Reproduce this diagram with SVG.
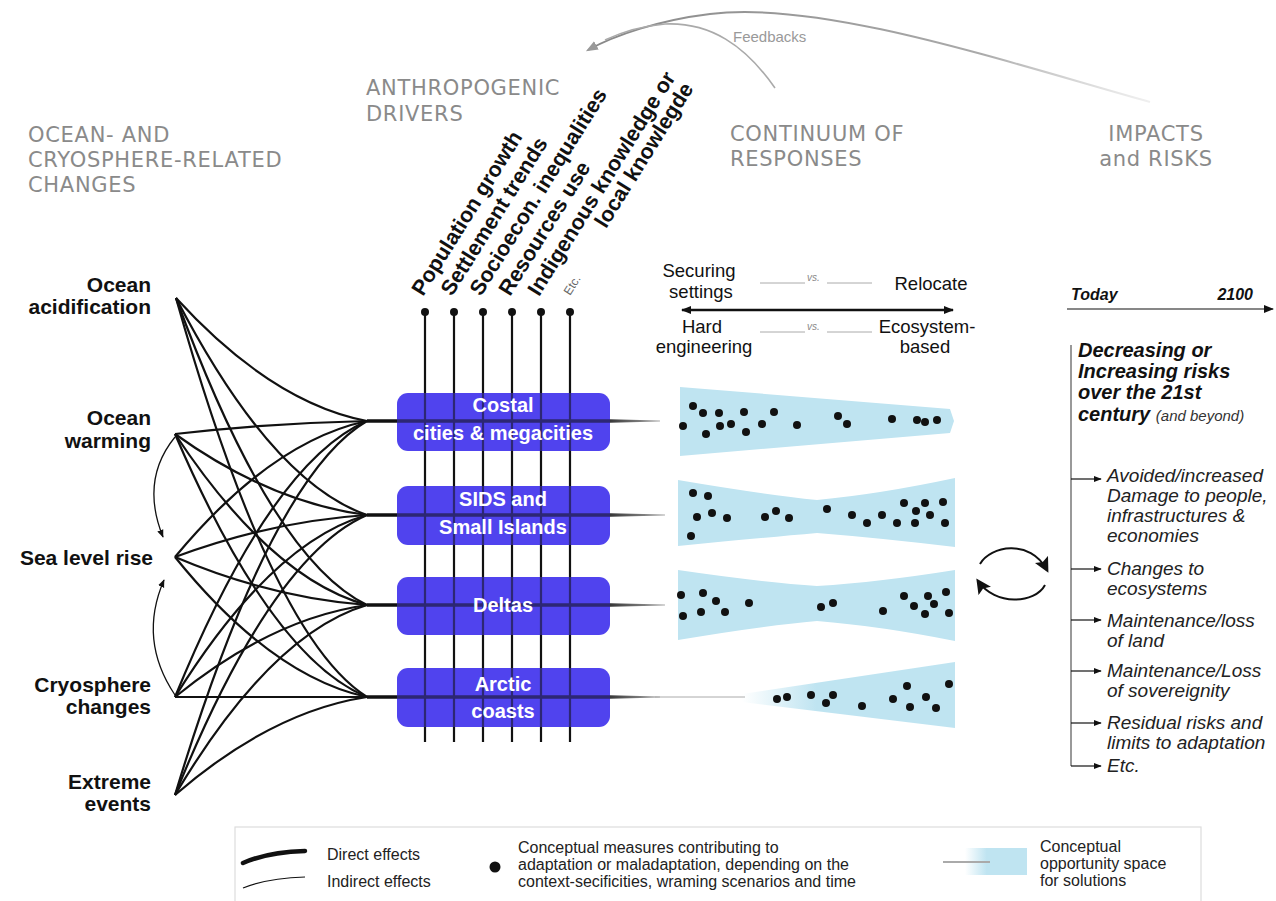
<svg xmlns="http://www.w3.org/2000/svg" width="1276" height="901" viewBox="0 0 1276 901">
<style>
.hdr{font-family:"DejaVu Sans","Liberation Sans",sans-serif;font-size:21px;letter-spacing:0.7px;fill:#8a8a8a}
.src{font-family:"Liberation Sans",Arial,sans-serif;font-size:21px;font-weight:bold;fill:#111;text-anchor:end}
.drv{font-family:"Liberation Sans",Arial,sans-serif;font-size:21.5px;font-weight:bold;fill:#111}
.box{fill:#5044ee}
.btx{font-family:"Liberation Sans",Arial,sans-serif;font-size:20px;font-weight:bold;fill:#fff;text-anchor:middle}
.fan{fill:none;stroke:#111;stroke-width:2.2}
.vl{stroke:#111;stroke-width:2.2}
.resp{font-family:"Liberation Sans",Arial,sans-serif;font-size:18.5px;fill:#111;text-anchor:middle}
.vs{font-family:"Liberation Sans",Arial,sans-serif;font-size:10px;font-style:italic;fill:#888}
.opp{fill:#bfe4f1}
.dot{fill:#111}
.imp{font-family:"Liberation Sans",Arial,sans-serif;font-size:19px;font-style:italic;fill:#222}
.big{font-family:"Liberation Sans",Arial,sans-serif;font-size:20px;font-style:italic;font-weight:bold;fill:#111}
.leg{font-family:"Liberation Sans",Arial,sans-serif;font-size:16px;fill:#222}
</style>
<defs>
<marker id="ah" viewBox="0 0 10 10" refX="9" refY="5" markerWidth="10" markerHeight="10" markerUnits="userSpaceOnUse" orient="auto-start-reverse"><path d="M0,1 L10,5 L0,9 z" fill="#111"/></marker>
<marker id="ahs" viewBox="0 0 10 10" refX="9" refY="5" markerWidth="8" markerHeight="8" markerUnits="userSpaceOnUse" orient="auto-start-reverse"><path d="M0,1 L10,5 L0,9 z" fill="#111"/></marker>
<marker id="ahb" viewBox="0 0 10 10" refX="8" refY="5" markerWidth="15" markerHeight="15" markerUnits="userSpaceOnUse" orient="auto"><path d="M0,0 L10,5 L0,10 L2,5 z" fill="#111"/></marker>
<marker id="ahg" viewBox="0 0 10 10" refX="8" refY="5" markerWidth="12" markerHeight="12" markerUnits="userSpaceOnUse" orient="auto"><path d="M0,1 L10,5 L0,9 z" fill="#999"/></marker>
<linearGradient id="arcg" x1="0" x2="1" y1="0" y2="0"><stop offset="0" stop-color="#bfe4f1" stop-opacity="0"/><stop offset="0.35" stop-color="#bfe4f1"/><stop offset="1" stop-color="#bfe4f1"/></linearGradient>
<linearGradient id="tap" x1="0" x2="1" y1="0" y2="0"><stop offset="0" stop-color="#222"/><stop offset="1" stop-color="#aaa"/></linearGradient>
<linearGradient id="fbg" x1="0" x2="1" y1="0" y2="0"><stop offset="0" stop-color="#888"/><stop offset="0.7" stop-color="#aaa"/><stop offset="1" stop-color="#ccc" stop-opacity="0.3"/></linearGradient>
<clipPath id="boxclip">
<rect x="397" y="393" width="213" height="58" rx="11"/>
<rect x="397" y="486" width="213" height="59" rx="11"/>
<rect x="397" y="577" width="213" height="58" rx="11"/>
<rect x="397" y="668" width="213" height="59" rx="11"/>
</clipPath>
</defs>
<rect width="1276" height="901" fill="#fff"/>

<!-- headers -->
<g id="headers">
<text class="hdr" x="28" y="142">OCEAN- AND</text>
<text class="hdr" x="28" y="167">CRYOSPHERE-RELATED</text>
<text class="hdr" x="28" y="192">CHANGES</text>
<text class="hdr" x="366" y="95">ANTHROPOGENIC</text>
<text class="hdr" x="366" y="121">DRIVERS</text>
<text class="hdr" x="730" y="141">CONTINUUM OF</text>
<text class="hdr" x="730" y="166">RESPONSES</text>
<text class="hdr" x="1156" y="141" text-anchor="middle">IMPACTS</text>
<text class="hdr" x="1156" y="166" text-anchor="middle">and RISKS</text>
</g>

<!-- feedbacks -->
<g id="feedbacks">
<path d="M1150,102 C1000,60 820,0 710,14 C660,20 615,35 588,50" fill="none" stroke="url(#fbg)" stroke-width="2" marker-end="url(#ahg)"/>
<path d="M775,88 C745,45 710,22 665,24 C640,26 620,33 605,40" fill="none" stroke="#aaa" stroke-width="1.6"/>
<text x="733" y="42" font-family="Liberation Sans, Arial, sans-serif" font-size="15" fill="#999">Feedbacks</text>
</g>

<!-- sources -->
<g id="src-acid"><text class="src" x="151" y="292">Ocean</text><text class="src" x="151" y="314">acidification</text></g>
<g id="src-warm"><text class="src" x="151" y="425">Ocean</text><text class="src" x="151" y="448">warming</text></g>
<g id="src-slr"><text class="src" x="153" y="565">Sea level rise</text></g>
<g id="src-cryo"><text class="src" x="151" y="692">Cryosphere</text><text class="src" x="151" y="714">changes</text></g>
<g id="src-ext"><text class="src" x="151" y="789">Extreme</text><text class="src" x="151" y="811">events</text></g>

<!-- connectors -->
<g id="connectors">
<path class="fan" d="M176,298 Q271.5,402.6 367,421"/>
<path class="fan" d="M176,298 Q271.5,482.5 367,515"/>
<path class="fan" d="M176,298 Q271.5,559 367,605"/>
<path class="fan" d="M176,298 Q271.5,637 367,697"/>
<path class="fan" d="M175,434 Q271,423 367,421"/>
<path class="fan" d="M175,434 Q271,502.9 367,515"/>
<path class="fan" d="M175,434 Q271,579 367,605"/>
<path class="fan" d="M175,434 Q271,657.6 367,697"/>
<path class="fan" d="M175,557 Q271,441.4 367,421"/>
<path class="fan" d="M175,557 Q271,521.3 367,515"/>
<path class="fan" d="M175,557 Q271,597.8 367,605"/>
<path class="fan" d="M175,557 Q271,676 367,697"/>
<path class="fan" d="M175,697 Q271,462.4 367,421"/>
<path class="fan" d="M175,697 Q271,542.3 367,515"/>
<path class="fan" d="M175,697 Q271,618.8 367,605"/>
<path class="fan" d="M175,697 L367,697"/>
<path class="fan" d="M175,795 Q271,477.1 367,421"/>
<path class="fan" d="M175,795 Q271,557 367,515"/>
<path class="fan" d="M175,795 Q271,633.5 367,605"/>
<path class="fan" d="M175,795 Q271,711.7 367,697"/>
<path d="M175,437 Q140,480 163,537" fill="none" stroke="#111" stroke-width="1.3" marker-end="url(#ahs)"/>
<path d="M175,695 Q138,640 164,580" fill="none" stroke="#111" stroke-width="1.3" marker-end="url(#ahs)"/>
<polygon points="600,419 600,423 660,421.4 660,420.6" fill="url(#tap)"/>
<polygon points="600,513 600,517 665,515.4 665,514.6" fill="url(#tap)"/>
<polygon points="600,603 600,607 665,605.4 665,604.6" fill="url(#tap)"/>
<polygon points="600,695 600,699 660,697.5 660,696.5" fill="url(#tap)"/>
<line x1="655" y1="697" x2="745" y2="697" stroke="#aaa" stroke-width="1"/>
<g id="drvlines">
<line class="vl" x1="425" y1="312" x2="425" y2="742"/>
<line class="vl" x1="454" y1="312" x2="454" y2="742"/>
<line class="vl" x1="483" y1="312" x2="483" y2="742"/>
<line class="vl" x1="512" y1="312" x2="512" y2="742"/>
<line class="vl" x1="541" y1="312" x2="541" y2="742"/>
<line class="vl" x1="570" y1="312" x2="570" y2="742"/>
<line x1="367" y1="421" x2="610" y2="421" stroke="#111" stroke-width="3.5"/>
<line x1="367" y1="515" x2="610" y2="515" stroke="#111" stroke-width="3.5"/>
<line x1="367" y1="605" x2="610" y2="605" stroke="#111" stroke-width="3.5"/>
<line x1="367" y1="697" x2="610" y2="697" stroke="#111" stroke-width="3.5"/>
</g>
<circle class="dot" cx="425" cy="312" r="4"/>
<circle class="dot" cx="454" cy="312" r="4"/>
<circle class="dot" cx="483" cy="312" r="4"/>
<circle class="dot" cx="512" cy="312" r="4"/>
<circle class="dot" cx="541" cy="312" r="4"/>
<circle class="dot" cx="570" cy="312" r="4"/>
</g>

<!-- driver labels -->
<g id="drivers">
<text class="drv" transform="translate(423,297) rotate(-58)">Population growth</text>
<text class="drv" transform="translate(452,297) rotate(-58)">Settlement trends</text>
<text class="drv" transform="translate(481,297) rotate(-58)">Socioecon. inequalities</text>
<text class="drv" transform="translate(510,297) rotate(-58)">Resources use</text>
<g transform="translate(539,297) rotate(-58)">
<text class="drv" x="259" y="0" text-anchor="end">Indigenous knowledge or</text>
<text class="drv" x="259" y="21" text-anchor="end">local knowlegde</text>
</g>
<text transform="translate(570,296) rotate(-58)" font-family="Liberation Sans, Arial, sans-serif" font-size="12" fill="#666">Etc.</text>
</g>

<!-- boxes -->
<g id="box-coastal"><rect class="box" x="397" y="393" width="213" height="58" rx="11"/></g>
<g id="box-sids"><rect class="box" x="397" y="486" width="213" height="59" rx="11"/></g>
<g id="box-deltas"><rect class="box" x="397" y="577" width="213" height="58" rx="11"/></g>
<g id="box-arctic"><rect class="box" x="397" y="668" width="213" height="59" rx="11"/></g>
<use href="#drvlines" clip-path="url(#boxclip)" opacity="0.55"/>
<g id="box-labels">
<text class="btx" x="503" y="412">Costal</text>
<text class="btx" x="503" y="440">cities &amp; megacities</text>
<text class="btx" x="503" y="506">SIDS and</text>
<text class="btx" x="503" y="534">Small Islands</text>
<text class="btx" x="503" y="612">Deltas</text>
<text class="btx" x="503" y="691">Arctic</text>
<text class="btx" x="503" y="718">coasts</text>
</g>

<!-- continuum of responses header arrows -->
<g id="continuum">
<text class="resp" x="699" y="277">Securing</text>
<text class="resp" x="701" y="298">settings</text>
<text class="resp" x="931" y="290">Relocate</text>
<line x1="760" y1="283" x2="805" y2="283" stroke="#aaa" stroke-width="1"/>
<line x1="827" y1="283" x2="872" y2="283" stroke="#aaa" stroke-width="1"/>
<text class="vs" x="807" y="281">vs.</text>
<line x1="682" y1="310" x2="953" y2="310" stroke="#111" stroke-width="2.5" marker-start="url(#ah)" marker-end="url(#ah)"/>
<text class="resp" x="702" y="333">Hard</text>
<text class="resp" x="704" y="353">engineering</text>
<text class="resp" x="927" y="333">Ecosystem-</text>
<text class="resp" x="925" y="353">based</text>
<line x1="760" y1="332" x2="805" y2="332" stroke="#aaa" stroke-width="1"/>
<line x1="827" y1="332" x2="872" y2="332" stroke="#aaa" stroke-width="1"/>
<text class="vs" x="807" y="330">vs.</text>
</g>

<!-- opportunity spaces -->
<g id="opp-coastal">
<path class="opp" d="M680,387 L950,409 L954,421 L950,433 L680,456 Z"/>
<g class="dot">
<circle cx="693" cy="406" r="4"/><circle cx="703" cy="413" r="4"/><circle cx="719" cy="413" r="4"/><circle cx="744" cy="412" r="4"/><circle cx="774" cy="412" r="4"/><circle cx="683" cy="426" r="4"/><circle cx="720" cy="426" r="4"/><circle cx="731" cy="424" r="4"/><circle cx="762" cy="424" r="4"/><circle cx="706" cy="434" r="4"/><circle cx="746" cy="432" r="4"/><circle cx="797" cy="425" r="4"/><circle cx="838" cy="416" r="4"/><circle cx="847" cy="424" r="4"/><circle cx="892" cy="419" r="4"/><circle cx="917" cy="420" r="4"/><circle cx="925" cy="422" r="4"/><circle cx="937" cy="420" r="4"/>
</g>
</g>
<g id="opp-sids">
<path class="opp" d="M678,480 Q760,494 817,500 Q880,494 955,478 L955,547 Q880,538 817,533 Q760,538 678,546 Z"/>
<g class="dot">
<circle cx="693" cy="493" r="4"/><circle cx="708" cy="496" r="4"/><circle cx="697" cy="517" r="4"/><circle cx="712" cy="513" r="4"/><circle cx="727" cy="518" r="4"/><circle cx="691" cy="536" r="4"/><circle cx="765" cy="517" r="4"/><circle cx="776" cy="511" r="4"/><circle cx="789" cy="518" r="4"/><circle cx="827" cy="509" r="4"/><circle cx="852" cy="515" r="4"/><circle cx="867" cy="523" r="4"/><circle cx="882" cy="515" r="4"/><circle cx="897" cy="523" r="4"/><circle cx="904" cy="503" r="4"/><circle cx="916" cy="511" r="4"/><circle cx="925" cy="503" r="4"/><circle cx="930" cy="515" r="4"/><circle cx="943" cy="502" r="4"/><circle cx="915" cy="523" r="4"/><circle cx="945" cy="523" r="4"/>
</g>
</g>
<g id="opp-deltas">
<path class="opp" d="M678,570 Q760,582 817,586 Q880,582 955,570 L955,641 Q880,626 817,621 Q760,626 678,640 Z"/>
<g class="dot">
<circle cx="681" cy="595" r="4"/><circle cx="703" cy="593" r="4"/><circle cx="716" cy="601" r="4"/><circle cx="683" cy="616" r="4"/><circle cx="701" cy="612" r="4"/><circle cx="725" cy="612" r="4"/><circle cx="749" cy="603" r="4"/><circle cx="821" cy="607" r="4"/><circle cx="833" cy="603" r="4"/><circle cx="883" cy="611" r="4"/><circle cx="904" cy="596" r="4"/><circle cx="928" cy="596" r="4"/><circle cx="946" cy="592" r="4"/><circle cx="914" cy="606" r="4"/><circle cx="934" cy="604" r="4"/><circle cx="925" cy="614" r="4"/><circle cx="949" cy="613" r="4"/>
</g>
</g>
<g id="opp-arctic">
<path d="M742,694 L955,662 L955,728 L742,702 Z" fill="url(#arcg)"/>
<g class="dot">
<circle cx="777" cy="699" r="4"/><circle cx="787" cy="697" r="4"/><circle cx="811" cy="695" r="4"/><circle cx="826" cy="703" r="4"/><circle cx="833" cy="695" r="4"/><circle cx="862" cy="706" r="4"/><circle cx="893" cy="699" r="4"/><circle cx="907" cy="686" r="4"/><circle cx="926" cy="697" r="4"/><circle cx="910" cy="707" r="4"/><circle cx="936" cy="708" r="4"/><circle cx="949" cy="684" r="4"/>
</g>
</g>

<!-- cycle arrows -->
<g id="cycle">
<path d="M980,564 C990,546 1030,538 1047,570" fill="none" stroke="#111" stroke-width="2" marker-end="url(#ahb)"/>
<path d="M1045,585 C1035,604 995,606 978,581" fill="none" stroke="#111" stroke-width="2" marker-end="url(#ahb)"/>
</g>

<!-- impacts -->
<g id="impacts">
<text x="1071" y="300" font-family="Liberation Sans, Arial, sans-serif" font-size="16" font-weight="bold" font-style="italic" fill="#111">Today</text>
<text x="1253" y="300" font-family="Liberation Sans, Arial, sans-serif" font-size="16" font-weight="bold" font-style="italic" fill="#111" text-anchor="end">2100</text>
<line x1="1067" y1="309" x2="1273" y2="309" stroke="#111" stroke-width="1.2" marker-end="url(#ah)"/>
<text class="big" x="1078" y="357">Decreasing or</text>
<text class="big" x="1078" y="378">Increasing risks</text>
<text class="big" x="1078" y="399">over the 21st</text>
<text class="big" x="1078" y="421">century <tspan font-weight="normal" font-size="15" fill="#333">(and beyond)</tspan></text>
<path d="M1071,345 V766" stroke="#555" stroke-width="1.2" fill="none"/>
<line x1="1071" y1="479" x2="1101" y2="479" stroke="#111" stroke-width="1.2" marker-end="url(#ahs)"/>
<line x1="1071" y1="569" x2="1101" y2="569" stroke="#111" stroke-width="1.2" marker-end="url(#ahs)"/>
<line x1="1071" y1="620" x2="1101" y2="620" stroke="#111" stroke-width="1.2" marker-end="url(#ahs)"/>
<line x1="1071" y1="671" x2="1101" y2="671" stroke="#111" stroke-width="1.2" marker-end="url(#ahs)"/>
<line x1="1071" y1="723" x2="1101" y2="723" stroke="#111" stroke-width="1.2" marker-end="url(#ahs)"/>
<line x1="1071" y1="766" x2="1101" y2="766" stroke="#111" stroke-width="1.2" marker-end="url(#ahs)"/>
<text class="imp" x="1107" y="482">Avoided/increased</text>
<text class="imp" x="1107" y="502">Damage to people,</text>
<text class="imp" x="1107" y="522">infrastructures &amp;</text>
<text class="imp" x="1107" y="542">economies</text>
<text class="imp" x="1107" y="575">Changes to</text>
<text class="imp" x="1107" y="595">ecosystems</text>
<text class="imp" x="1107" y="627">Maintenance/loss</text>
<text class="imp" x="1107" y="647">of land</text>
<text class="imp" x="1107" y="677">Maintenance/Loss</text>
<text class="imp" x="1107" y="697">of sovereignity</text>
<text class="imp" x="1107" y="729">Residual risks and</text>
<text class="imp" x="1107" y="749">limits to adaptation</text>
<text class="imp" x="1107" y="772">Etc.</text>
</g>

<!-- legend -->
<g id="legend">
<rect x="235" y="827" width="966" height="80" fill="#fff" stroke="#ddd" stroke-width="1.2"/>
<path d="M243,863 Q268,852 305,851" fill="none" stroke="#111" stroke-width="4.5" stroke-linecap="round"/>
<path d="M243,888 Q268,878 305,877" fill="none" stroke="#111" stroke-width="1.2"/>
<text class="leg" x="327" y="860">Direct effects</text>
<text class="leg" x="327" y="887">Indirect effects</text>
<circle cx="495" cy="867" r="5.5" fill="#111"/>
<text class="leg" x="518" y="853">Conceptual measures contributing to</text>
<text class="leg" x="518" y="870">adaptation or maladaptation, depending on the</text>
<text class="leg" x="518" y="887">context-secificities, wraming scenarios and time</text>
<rect x="965" y="848" width="62" height="27" fill="url(#arcg)"/>
<line x1="943" y1="862" x2="990" y2="862" stroke="#aaa" stroke-width="2"/>
<text class="leg" x="1040" y="852">Conceptual</text>
<text class="leg" x="1040" y="869">opportunity space</text>
<text class="leg" x="1040" y="886">for solutions</text>
</g>
</svg>
